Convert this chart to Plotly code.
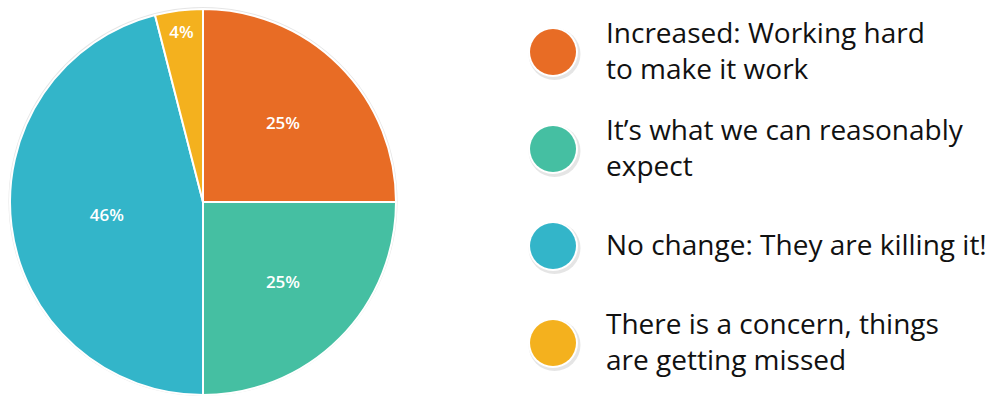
import plotly.graph_objects as go

categories = [
    "Increased: Working hard<br>to make it work",
    "It’s what we can reasonably<br>expect",
    "No change: They are killing it!",
    "There is a concern, things<br>are getting missed",
]
values = [25, 25, 46, 4]
colors = ["#E86C25", "#45BFA2", "#33B5C9", "#F4B11E"]

W, H = 990, 396
FONT = "Open Sans"

fig = go.Figure()

# subtle shadow behind the pie
fig.add_trace(go.Pie(
    values=[1], marker=dict(colors=["rgba(0,0,0,0.10)"]),
    domain=dict(x=[8 / W, 398 / W], y=[0 / H, 389 / H]),
    textinfo="none", hoverinfo="skip", showlegend=False, sort=False,
))

fig.add_trace(go.Pie(
    labels=[c.replace("<br>", " ") for c in categories],
    values=values,
    marker=dict(colors=colors, line=dict(color="white", width=2)),
    domain=dict(x=[10 / W, 396 / W], y=[1 / H, 387 / H]),
    sort=False, direction="clockwise", rotation=0,
    textposition="inside", insidetextorientation="horizontal",
    texttemplate="%{percent:.0%}",
    textfont=dict(family="Open Sans", size=17, color="white", weight=600),
    showlegend=False, hoverinfo="label+percent",
))

# custom legend
leg_cx, leg_top, leg_step, leg_r = 553, 52, 97, 23
text_x = 604
xs = [leg_cx] * len(categories)
ys = [leg_top + i * leg_step for i in range(len(categories))]

fig.add_trace(go.Scatter(
    x=[x + 1.5 for x in xs], y=[y + 2 for y in ys], mode="markers",
    marker=dict(size=2 * leg_r + 6, color="rgba(0,0,0,0.10)", line=dict(width=0)),
    xaxis="x", yaxis="y", hoverinfo="skip", showlegend=False,
))
fig.add_trace(go.Scatter(
    x=xs, y=ys, mode="markers",
    marker=dict(size=2 * leg_r + 4, color="white", line=dict(width=0)),
    xaxis="x", yaxis="y", hoverinfo="skip", showlegend=False,
))
fig.add_trace(go.Scatter(
    x=xs, y=ys, mode="markers",
    marker=dict(size=2 * leg_r, color=colors, line=dict(width=0)),
    xaxis="x", yaxis="y", hoverinfo="skip", showlegend=False,
))

for c, y in zip(categories, ys):
    fig.add_annotation(
        x=text_x, y=y - 2, xref="x", yref="y", text=c, showarrow=False,
        xanchor="left", yanchor="middle", align="left",
        font=dict(family=FONT, size=28, color="#111111"),
    )

fig.update_layout(
    width=W, height=H, margin=dict(l=0, r=0, t=0, b=0),
    paper_bgcolor="white", plot_bgcolor="rgba(0,0,0,0)",
    xaxis=dict(range=[0, W], visible=False, domain=[0, 1], fixedrange=True),
    yaxis=dict(range=[H, 0], visible=False, domain=[0, 1], fixedrange=True),
    showlegend=False,
)

fig.write_html("out.html")
